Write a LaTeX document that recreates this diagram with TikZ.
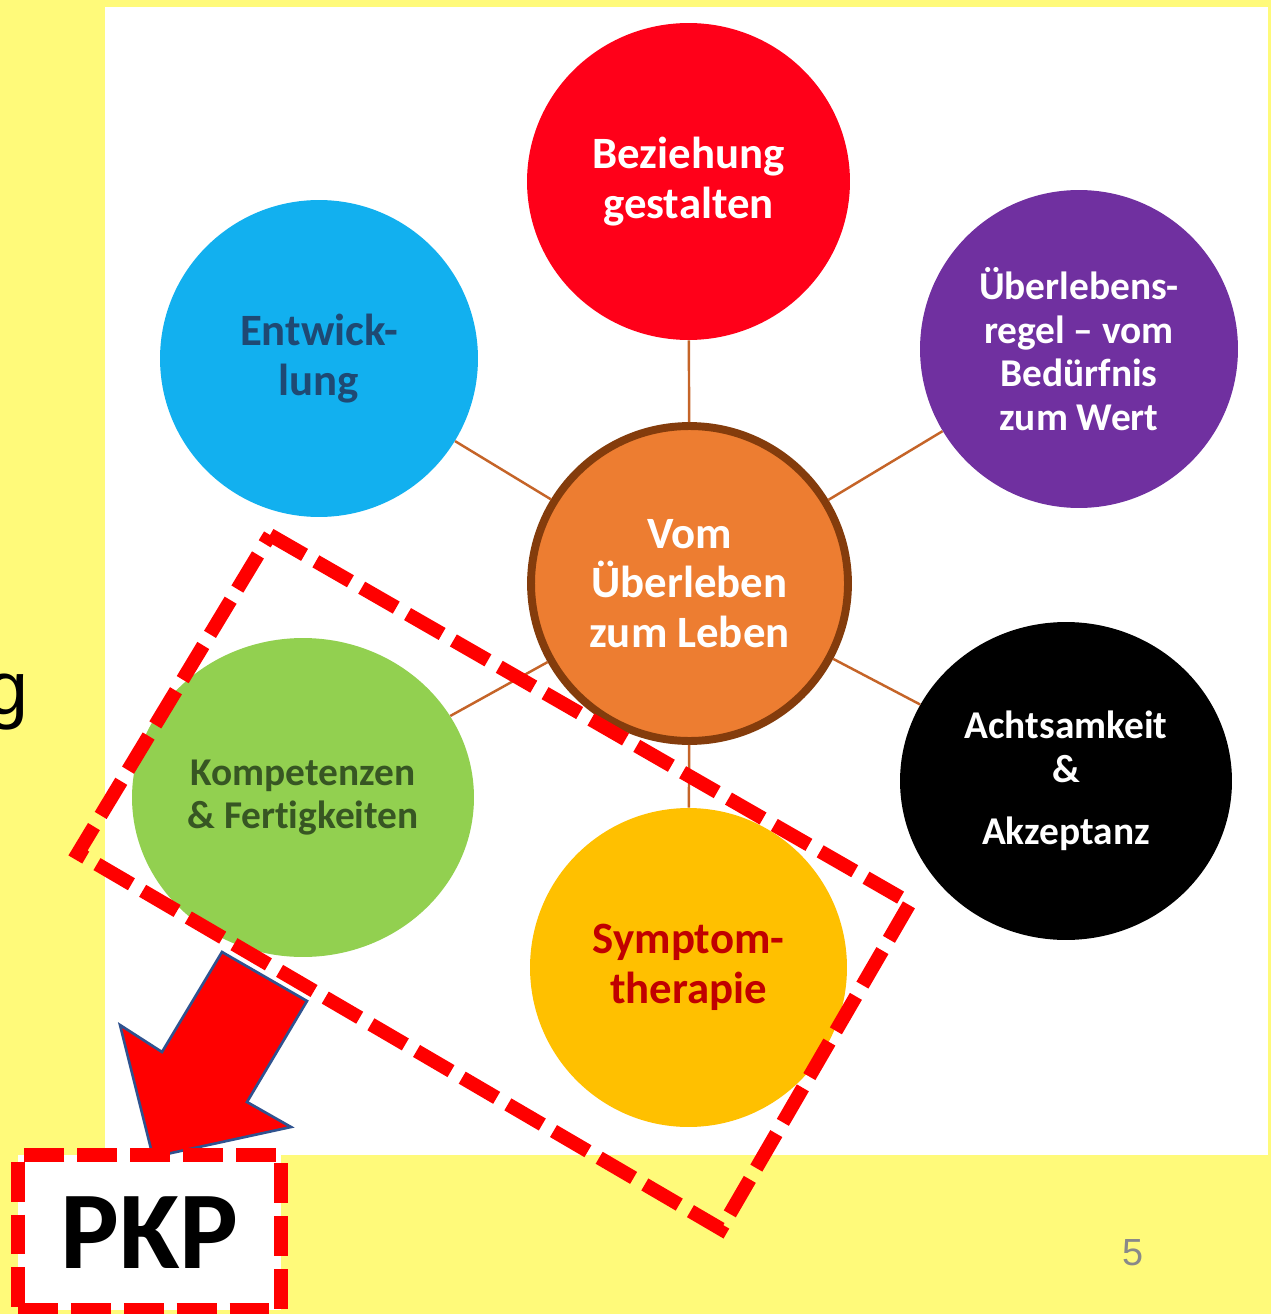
\documentclass[tikz,border=0pt]{standalone}
\usepackage{fontspec}
\setmainfont{Carlito}[Ligatures=NoCommon]
\newfontfamily\arialfont{Liberation Sans}
\usetikzlibrary{shapes.geometric}
\definecolor{bgyellow}{RGB}{255,250,122}
\definecolor{cred}{RGB}{255,0,25}
\definecolor{cblue}{RGB}{18,176,239}
\definecolor{cpurple}{RGB}{112,48,160}
\definecolor{corange}{RGB}{237,125,49}
\definecolor{cbrown}{RGB}{132,60,12}
\definecolor{cgreen}{RGB}{146,208,80}
\definecolor{cyellow}{RGB}{255,192,0}
\definecolor{conncol}{RGB}{197,100,40}
\definecolor{tblue}{RGB}{31,73,115}
\definecolor{tgreen}{RGB}{55,86,35}
\definecolor{tred}{RGB}{192,0,0}
\definecolor{arrowblue}{RGB}{47,82,143}
\definecolor{numgray}{RGB}{137,137,137}
\tikzset{
 bubble/.style={ellipse, inner sep=0pt, align=center, font=\bfseries\fontsize{25.5}{28.3}\selectfont},
 smallbubble/.style={bubble, font=\bfseries\fontsize{22.4}{24.9}\selectfont},
 conn/.style={draw=conncol, line width=1.4pt},
 redash/.style={draw=red, line width=7.9pt, dash pattern=on 22.7pt off 7.4pt, line join=miter},
}
\begin{document}
\begin{tikzpicture}[x=0.02cm,y=-0.02cm]
\useasboundingbox (0,0) rectangle (1271,1314);
\fill[bgyellow] (0,0) rectangle (1271,1314);
\fill[white] (105,7) rectangle (1268,1155);
\node[font=\arialfont\fontsize{43}{50}\selectfont, anchor=base west, inner sep=0pt] (side) at (-14,714) {g};

\node[bubble, fill=cred, text=white, minimum width=6.46cm, minimum height=6.34cm] (bez) at (688.5,181.5) {Beziehung\\gestalten};
\node[bubble, fill=cblue, text=tblue, minimum width=6.36cm, minimum height=6.34cm] (ent) at (319,358.5) {Entwick-\\lung};
\node[smallbubble, fill=cpurple, text=white, minimum width=6.36cm, minimum height=6.36cm] (ueb) at (1079,349) {Überlebens-\\regel – vom\\Bedürfnis\\zum Wert};
\node[bubble, fill=corange, draw=cbrown, line width=4.5pt, text=white, minimum width=6.34cm, minimum height=6.3cm] (mid) at (689.5,583.5) {Vom\\Überleben\\zum Leben};
\node[smallbubble, fill=black, text=white, minimum width=6.64cm, minimum height=6.36cm] (acht) at (1066,781) {Achtsamkeit\\\&\\[10.8pt]Akzeptanz};
\node[smallbubble, fill=cgreen, text=tgreen, minimum width=6.84cm, minimum height=6.38cm] (komp) at (303,797.5) {Kompetenzen\\\& Fertigkeiten};
\node[bubble, fill=cyellow, text=tred, minimum width=6.34cm, minimum height=6.38cm] (sym) at (688.5,967.5) {Symptom-\\therapie};

\draw[conn] (mid) -- (bez);
\draw[conn] (mid) -- (ent);
\draw[conn] (mid) -- (ueb);
\draw[conn] (mid) -- (acht);
\draw[conn] (mid) -- (komp);
\draw[conn] (mid) -- (sym);

\draw[redash] (270,535) -- (910,903) -- (721,1229) -- (78,853) -- cycle;

\filldraw[fill=red, draw=arrowblue, line width=1.5pt, line join=miter] (222,952) -- (307,1001) -- (247,1102) -- (291,1127) -- (153,1157) -- (120,1025) -- (162,1052) -- cycle;

\node[draw=red, line width=7.9pt, dash pattern=on 22.7pt off 7.4pt, fill=white, minimum width=5.26cm, minimum height=3.1cm, inner sep=0pt, font=\bfseries\fontsize{63}{70}\selectfont] (pkp) at (149.5,1232.5) {PKP};

\node[font=\arialfont\fontsize{21.5}{24}\selectfont, text=numgray, inner sep=0pt] (pg) at (1133,1253) {5};
\end{tikzpicture}
\end{document}
